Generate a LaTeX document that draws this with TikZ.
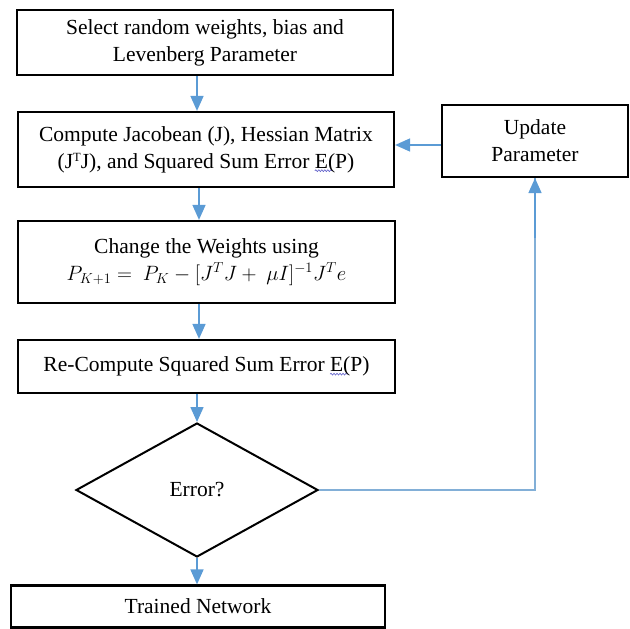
\documentclass[tikz,border=0pt]{standalone}
\usepackage{fontspec}
\setmainfont{Liberation Serif}
\usetikzlibrary{arrows.meta,shapes.geometric,decorations.pathmorphing}
\definecolor{arrblue}{RGB}{91,155,213}
\definecolor{loopblue}{RGB}{130,175,215}
\definecolor{spellc}{RGB}{90,90,200}
\newcommand{\wavyE}[1]{\tikz[baseline=(w.base),x=1pt,y=1pt]{\node[rectangle,draw=none,inner sep=0pt,outer sep=0pt,minimum width=0pt,minimum height=0pt](w){#1};\draw[overlay,spellc,line width=0.6pt,decorate,decoration={snake,amplitude=0.9pt,segment length=3pt}] ([yshift=-2.5pt]w.south west) -- ([yshift=-2.5pt,xshift=5pt]w.south east);}}
\newcommand{\supT}{\raisebox{7pt}{\fontsize{12.5}{12.5}\selectfont T}}
\tikzset{
  box/.style={draw=black,line width=2.2pt,rectangle,align=center,inner sep=0pt,
    font=\fontsize{21.5}{27}\selectfont},
  dia/.style={draw=black,line width=2pt,diamond,inner sep=0pt,
    font=\fontsize{21.5}{27}\selectfont},
  flow/.style={draw=arrblue,line width=1.6pt,-{Triangle[length=15pt,width=13pt]}},
  loopline/.style={draw=loopblue,line width=1.2pt},
}
\begin{document}
\begin{tikzpicture}[x=1pt,y=-1pt]
\useasboundingbox (0,0) rectangle (630,629);
\node[box,minimum width=376pt,minimum height=65pt] (b1) at (205,42.5)
  {Select random weights, bias and\\Levenberg Parameter};
\node[box,minimum width=376pt,minimum height=75pt] (b2) at (206,149.5)
  {Compute Jacobean (J), Hessian Matrix\\(J\supT J), and Squared Sum Error \wavyE{E}(P)};
\node[box,minimum width=377pt,minimum height=82pt] (b3) at (206.5,262)
  {Change the Weights using\\{\fontsize{20.5}{27}\selectfont$P_{K+1} =\ P_K - [J^TJ +\ \mu I]^{-1}J^Te$}};
\node[box,minimum width=377pt,minimum height=53pt] (b4) at (206.5,366.5)
  {Re-Compute Squared Sum Error \wavyE{E}(P)};
\node[dia,minimum width=242pt,minimum height=134pt] (d) at (197,490) {Error?};
\node[box,minimum width=374pt,minimum height=42pt] (b5) at (198,606.5) {Trained Network};
\node[box,minimum width=186pt,minimum height=72pt] (u) at (535,141) {Update\\Parameter};
\draw[flow] (b1.south -| d.north) -- (b2.north -| d.north);
\draw[flow] ([xshift=2pt]b2.south -| d.north) -- ([xshift=2pt]b3.north -| d.north);
\draw[flow] ([xshift=2pt]b3.south -| d.north) -- ([xshift=2pt]b4.north -| d.north);
\draw[flow] (b4.south -| d.north) -- (d.north);
\draw[flow] (d.south) -- (b5.north -| d.south);
\draw[flow] ([yshift=-4pt]u.west) -- ([yshift=-4pt]u.west -| b2.east);
\draw[loopline] (d.east) -| (u.south);
\draw[flow] ([yshift=-60pt]u.south) -- (u.south);
\end{tikzpicture}
\end{document}
